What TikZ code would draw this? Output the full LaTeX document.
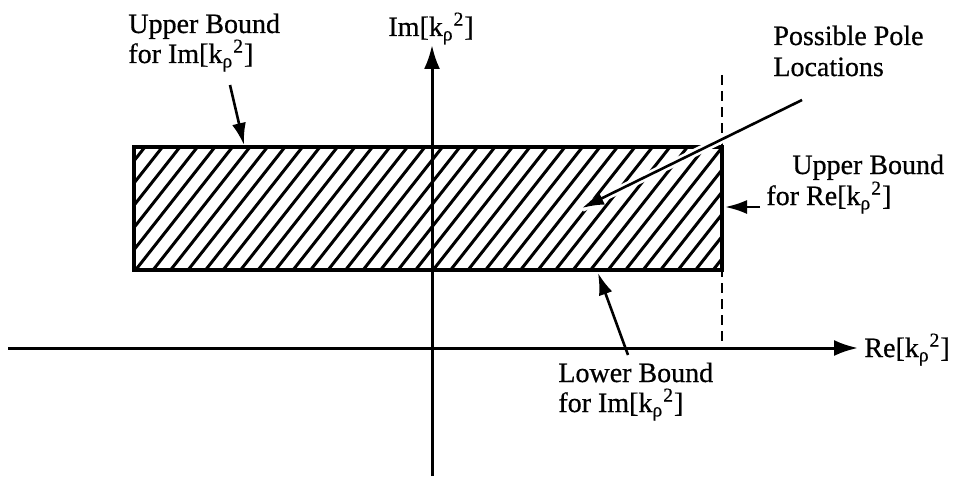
\documentclass[tikz,border=0pt]{standalone}
\usepackage{fontspec}
\setmainfont{Liberation Serif}[FakeBold=0.6]
\usetikzlibrary{arrows.meta}
\newcommand{\kr}{k\textsubscript{ρ}\textsuperscript{2}}
\begin{document}
\begin{tikzpicture}[x=0.5pt,y=-0.5pt,
  lbl/.style={font=\fontsize{14}{16}\selectfont, inner sep=0, anchor=base west},
  axisline/.style={line width=1.5pt, -{Latex[length=12pt,width=8pt]}},
  ptr/.style={line width=1.3pt, -{Latex[length=11pt,width=7pt]}},
  hatchline/.style={line width=1.5pt},
  boxstyle/.style={draw, line width=1.7pt, inner sep=0, minimum width=294pt, minimum height=61.5pt}]
\useasboundingbox (0,0) rectangle (972,476);

% hatched region
\begin{scope}
\clip (134,147) rectangle (722,270);
\foreach \i in {-7,...,35} \draw[hatchline] (134+\i*17.5,272) -- ++(100,-127);
\end{scope}
\node[boxstyle] (box) at (428,208.5) {};

% axes
\coordinate (reL) at (8,348);
\coordinate (reR) at (858,348);
\coordinate (imB) at (432,476);
\coordinate (imT) at (432,45);
\draw[axisline] (reL) -- (reR);
\draw[axisline] (imB) -- (imT);

% dashed bound
\coordinate (dT) at (722,75);
\coordinate (dB) at (722,348);
\draw[line width=1.3pt, dash pattern=on 5pt off 3pt] (dT) -- (dB);

% labels
\node[lbl] (ubi1) at (128,33) {Upper Bound};
\node[lbl] (ubi2) at (128,63) {for Im[\kr]};
\node[lbl] (iml) at (388,36) {Im[\kr]};
\node[lbl] (ppl1) at (773,45) {Possible Pole};
\node[lbl] (ppl2) at (773,76) {Locations};
\node[lbl] (ubr1) at (792,174) {Upper Bound};
\node[lbl] (ubr2) at (766,205) {for Re[\kr]};
\node[lbl] (lbi1) at (558,382) {Lower Bound};
\node[lbl] (lbi2) at (558,412) {for Im[\kr]};
\node[lbl] (rel) at (864,357) {Re[\kr]};

% pointers
\coordinate (a1s) at (230,85);
\coordinate (a1e) at (244,145);
\draw[ptr] (a1s) -- (a1e);
\coordinate (a2s) at (802,100);
\coordinate (a2e) at (582,208);
\draw[ptr, preaction={draw, white, line width=4pt, -}] (a2s) -- (a2e);
\coordinate (a3s) at (760,207);
\coordinate (a3e) at (725,207);
\draw[ptr] (a3s) -- (a3e);
\coordinate (a4s) at (628,355);
\coordinate (a4e) at (598,273);
\draw[ptr] (a4s) -- (a4e);
\end{tikzpicture}
\end{document}
